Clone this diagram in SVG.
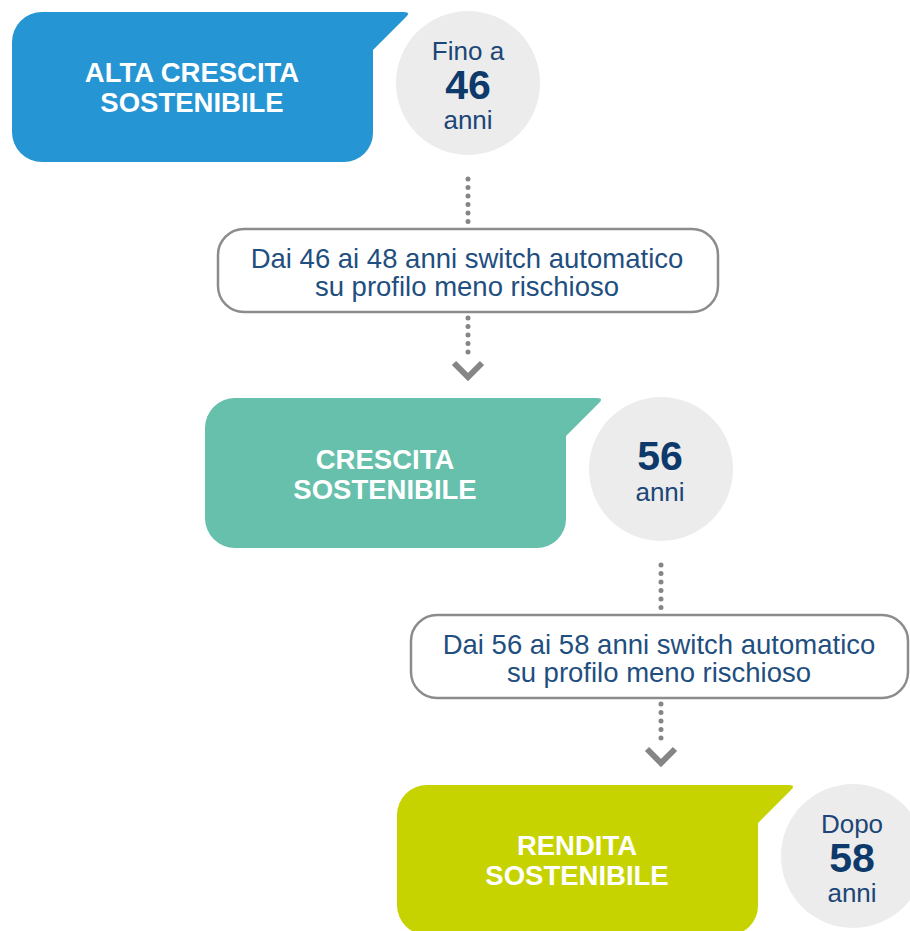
<svg xmlns="http://www.w3.org/2000/svg" width="910" height="931" viewBox="0 0 910 931">
<defs>
<style>
.title{font-family:"Liberation Sans",Arial,sans-serif;font-weight:bold;font-size:27.5px;fill:#ffffff;text-anchor:middle}
.ctext{font-family:"Liberation Sans",Arial,sans-serif;font-size:26px;fill:#1b4677;text-anchor:middle}
.cnum{font-family:"Liberation Sans",Arial,sans-serif;font-weight:bold;font-size:41px;fill:#0d3a6b;text-anchor:middle}
.btext{font-family:"Liberation Sans",Arial,sans-serif;font-size:27.5px;fill:#1f4f80;text-anchor:middle}
.circ{fill:#ececec}
.box{fill:#ffffff;stroke:#8c8c8c;stroke-width:2.5}
.dots{fill:none;stroke:#858585;stroke-width:5;stroke-linecap:round;stroke-dasharray:0 8.5}
.chev{fill:none;stroke:#858585;stroke-width:6;stroke-linejoin:miter}
</style>
<path id="tab" d="M 42 12 H 404 Q 411 12 406 17 L 373 50 V 133 A 29 29 0 0 1 344 162 H 42 A 30 30 0 0 1 12 132 V 42 A 30 30 0 0 1 42 12 Z"/>
</defs>
<rect width="910" height="931" fill="#ffffff"/>

<g id="connectors">
<path class="dots" d="M 468 179 V 226"/>
<path class="dots" d="M 468 318 V 360"/>
<path class="chev" d="M 454 363 L 468 377 L 482 363"/>
<path class="dots" d="M 661 565 V 612"/>
<path class="dots" d="M 661 704 V 746"/>
<path class="chev" d="M 647 749 L 661 763 L 675 749"/>
</g>

<g id="node-alta">
<use href="#tab" fill="#2595d3"/>
<text class="title" x="192" y="82">ALTA CRESCITA</text>
<text class="title" x="192" y="112">SOSTENIBILE</text>
</g>
<g id="age-46">
<circle class="circ" cx="468" cy="83" r="72"/>
<text class="ctext" x="468" y="60">Fino a</text>
<text class="cnum" x="468" y="99">46</text>
<text class="ctext" x="468" y="129">anni</text>
</g>

<g id="switch-1">
<rect class="box" x="218" y="229" width="500" height="83" rx="26"/>
<text class="btext" x="467" y="268">Dai 46 ai 48 anni switch automatico</text>
<text class="btext" x="467" y="296">su profilo meno rischioso</text>
</g>

<g id="node-crescita">
<use href="#tab" fill="#67c0ab" transform="translate(193,386)"/>
<text class="title" x="385" y="469">CRESCITA</text>
<text class="title" x="385" y="499">SOSTENIBILE</text>
</g>
<g id="age-56">
<circle class="circ" cx="661" cy="469" r="72"/>
<text class="cnum" x="660" y="470">56</text>
<text class="ctext" x="660" y="501">anni</text>
</g>

<g id="switch-2">
<rect class="box" x="411" y="615" width="497" height="83" rx="26"/>
<text class="btext" x="659" y="654">Dai 56 ai 58 anni switch automatico</text>
<text class="btext" x="659" y="682">su profilo meno rischioso</text>
</g>

<g id="node-rendita">
<use href="#tab" fill="#c7d300" transform="translate(385,773)"/>
<text class="title" x="577" y="855">RENDITA</text>
<text class="title" x="577" y="885">SOSTENIBILE</text>
</g>
<g id="age-58">
<circle class="circ" cx="853" cy="856" r="72"/>
<text class="ctext" x="852" y="833">Dopo</text>
<text class="cnum" x="852" y="872">58</text>
<text class="ctext" x="852" y="902">anni</text>
</g>
</svg>
